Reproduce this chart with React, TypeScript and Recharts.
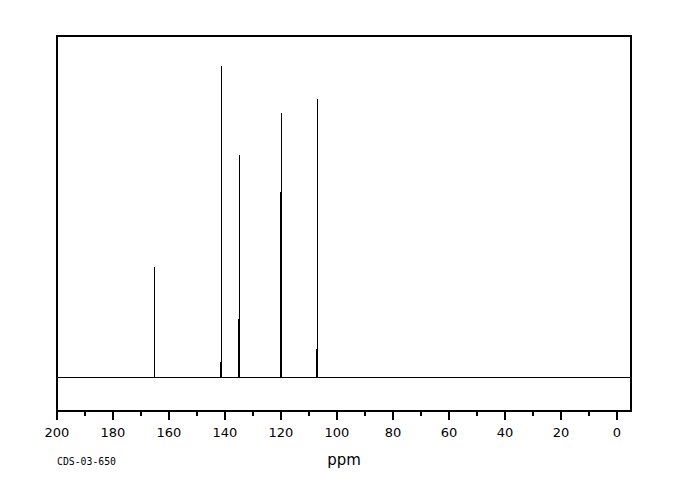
import { LineChart, Line, XAxis, YAxis, ReferenceArea } from "recharts"

// 13C peaks (ppm, relative height, height of the doubled foot)
const shifts = [165.2, 141.4, 134.8, 120.0, 106.8]
const heights = [35.6, 100, 71.5, 84.9, 89.4]
const shoulders = [0, 5.1, 18.6, 59.3, 9.0]

const xTicks = [200, 190, 180, 170, 160, 150, 140, 130, 120, 110, 100, 90, 80, 70, 60, 50, 40, 30, 20, 10, 0]

const X_MIN = -5
const X_MAX = 200
const Y_MIN = -10.6
const Y_MAX = 109.6

// baseline with one spike per peak
const spectrum: { ppm: number; v: number }[] = [{ ppm: X_MAX, v: 0 }]
shifts.forEach((p, i) => {
  spectrum.push({ ppm: p + 0.35, v: 0 })
  spectrum.push({ ppm: p + 0.35, v: shoulders[i] })
  spectrum.push({ ppm: p, v: shoulders[i] })
  spectrum.push({ ppm: p, v: heights[i] })
  spectrum.push({ ppm: p, v: 0 })
})
spectrum.push({ ppm: X_MIN, v: 0 })

const font = "'DejaVu Sans', sans-serif"

function Tick(props: any) {
  const { x, y, payload } = props
  const major = payload.value % 20 === 0
  return (
    <g>
      <line
        x1={x}
        x2={x}
        y1={y}
        y2={y + (major ? 9 : 4.5)}
        stroke="#000"
        strokeWidth={1.2}
        shapeRendering="crispEdges"
      />
      {major && (
        <text x={x} y={y + 26} textAnchor="middle" fontFamily={font} fontSize={13} fill="#000">
          {payload.value}
        </text>
      )}
    </g>
  )
}

export default function App() {
  return (
    <div style={{ position: "relative", width: 664, height: 484 }}>
      <LineChart
        width={664}
        height={484}
        data={spectrum}
        margin={{ top: 28, right: 41, left: 49, bottom: 51 }}
      >
        <XAxis
          dataKey="ppm"
          type="number"
          domain={[X_MIN, X_MAX]}
          reversed
          ticks={xTicks}
          interval={0}
          tickSize={0}
          tickMargin={0}
          tickLine={false}
          tick={<Tick />}
          axisLine={{ stroke: "#000", strokeWidth: 1.2, shapeRendering: "crispEdges" }}
          height={30}
          allowDataOverflow
        />
        <YAxis type="number" domain={[Y_MIN, Y_MAX]} hide allowDataOverflow />
        <ReferenceArea
          x1={X_MAX}
          x2={X_MIN}
          y1={Y_MIN}
          y2={Y_MAX}
          fill="none"
          stroke="#000"
          strokeWidth={1.2}
          fillOpacity={0}
          shapeRendering="crispEdges"
        />
        <Line
          dataKey="v"
          type="linear"
          stroke="#000"
          strokeWidth={1}
          dot={false}
          activeDot={false}
          shapeRendering="crispEdges"
          isAnimationActive={false}
        />
      </LineChart>
      <svg
        width={664}
        height={484}
        style={{ position: "absolute", left: 0, top: 0, pointerEvents: "none" }}
      >
        <text x={336} y={457} textAnchor="middle" fontFamily={font} fontSize={15} fill="#000">
          ppm
        </text>
        <text x={49} y={457} fontFamily="'DejaVu Sans Mono', monospace" fontSize={9.8} fill="#000">
          CDS-03-650
        </text>
      </svg>
    </div>
  )
}
